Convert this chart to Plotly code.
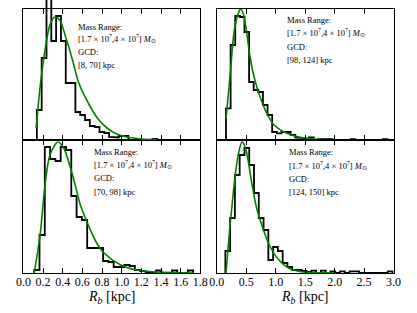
import numpy as np
import plotly.graph_objects as go

# ---------------- data ----------------
# histogram bin starts / widths in kpc, heights in density (arbitrary units)
tl_start, tl_width = 0.137, 0.049
tl_heights = [30, 82, 150, 99, 124, 99, 57, 57, 28, 25, 20, 14, 13, 8, 7, 3,
              2.5, 4, 4, 0, 0, 0, 0, 0, 1]
tl_curve_x = [0.13, 0.17, 0.22, 0.27, 0.32, 0.37, 0.43, 0.50, 0.56, 0.66, 0.76,
              0.85, 0.95, 1.05, 1.20, 1.36]
tl_curve_y = [12, 53, 90, 115, 123, 120, 103, 80, 58, 37, 21, 12, 6, 3, 1, 0.3]

tr_start, tr_width = 0.158, 0.0783
tr_heights = [31.7, 95, 124, 123, 108, 58, 50, 48, 35, 25, 8, 6.7, 8, 8, 5, 2.7,
              2, 0.5, 2.5, 0, 0.8, 0.8, 0.8, 0, 0, 0, 0, 0.8, 0, 0, 0, 0, 0, 0, 0.8]
tr_curve_x = [0.16, 0.24, 0.293, 0.375, 0.41, 0.457, 0.51, 0.566, 0.647, 0.755,
              0.864, 0.973, 1.19, 1.41, 1.68, 2.0, 2.33]
tr_curve_y = [22, 73, 107, 128, 131, 125, 107, 83, 60, 40, 25, 15, 6.7, 2.7, 0.8,
              0.3, 0.1]

bl_start, bl_width = 0.11, 0.0539
bl_heights = [3, 38, 126, 114, 112, 126, 123, 77, 56, 53, 25, 25, 25, 12, 11, 6,
              6, 8, 7, 3, 2, 1, 0.5, 2.5, 0, 0, 2.5, 0, 0, 2.5]
bl_curve_x = [0.11, 0.17, 0.22, 0.27, 0.35, 0.41, 0.50, 0.58, 0.66, 0.74, 0.82,
              0.99, 1.15, 1.31, 1.73]
bl_curve_y = [0, 38, 88, 118, 131, 125, 98, 68, 48, 31, 20, 8, 3, 1.3, 0]

br_start, br_width = 0.147, 0.081
br_heights = [22, 55, 98, 118, 125, 108, 80, 55, 43, 13, 26, 22, 10, 6, 3, 3, 2,
              1, 2.3, 0, 2.3, 0, 1.7, 0, 1.7, 0, 1.7, 1.7, 0, 0, 0, 0, 0, 0, 1.7]
br_curve_x = [0.158, 0.212, 0.266, 0.321, 0.375, 0.429, 0.484, 0.538, 0.592,
              0.673, 0.783, 0.892, 1.055, 1.218, 1.435, 1.71, 2.0]
br_curve_y = [0, 38, 71, 101, 121, 131, 126, 111, 91, 66, 45, 28, 13, 5, 1.3,
              0.3, 0.1]

left_ticks = [0.0, 0.2, 0.4, 0.6, 0.8, 1.0, 1.2, 1.4, 1.6, 1.8]
right_ticks = [0.0, 0.5, 1.0, 1.5, 2.0, 2.5, 3.0]

mass_label = "[1.7 × 10<sup>7</sup>,4 × 10<sup>7</sup>] <i>M</i><sub>⊙</sub>"
gcd_labels = ["[8, 70] kpc", "[98, 124] kpc", "[70, 98] kpc", "[124, 150] kpc"]

# ---------------- figure ----------------
W, H = 417, 313
SERIF = "Liberation Serif, Times New Roman, serif"


def px_x(X):
    return X / W


def px_y(Y):
    return (H - Y) / H


def step_xy(start, width, heights):
    n = len(heights)
    edges = start + width * np.arange(n + 1)
    xs, ys = [edges[0]], [0.0]
    for i, h in enumerate(heights):
        xs += [edges[i], edges[i + 1]]
        ys += [h, h]
    xs.append(edges[-1])
    ys.append(0.0)
    return xs, ys


fig = go.Figure()

xl = [px_x(16), px_x(200)]
xr = [px_x(217), px_x(401)]
y_top = px_y(9)
y_mid = px_y(140)
y_bot = px_y(273)

# empty trace so the top-left frame subplot exists
fig.add_trace(go.Scatter(x=[], y=[], xaxis="x", yaxis="y", hoverinfo="skip"))

panels = [
    # top-left drawn on an extended (invisible) subplot so its peak can pass the frame
    ("x5", "y5", tl_start, tl_width, tl_heights, tl_curve_x, tl_curve_y),
    ("x2", "y2", tr_start, tr_width, tr_heights, tr_curve_x, tr_curve_y),
    ("x3", "y3", bl_start, bl_width, bl_heights, bl_curve_x, bl_curve_y),
    ("x4", "y4", br_start, br_width, br_heights, br_curve_x, br_curve_y),
]
for ax, ay, s, w, hts, cx, cy in panels:
    xs, ys = step_xy(s, w, hts)
    fig.add_trace(go.Scatter(x=xs, y=ys, mode="lines", xaxis=ax, yaxis=ay,
                             line=dict(color="black", width=1.8),
                             hoverinfo="skip"))
    fig.add_trace(go.Scatter(x=cx, y=cy, mode="lines", xaxis=ax, yaxis=ay,
                             line=dict(color="#008000", width=1.6, shape="spline",
                                       smoothing=0.8),
                             hoverinfo="skip"))

common_x = dict(ticks="inside", ticklen=5, tickwidth=1, tickcolor="black",
                mirror="ticks", showline=True, linecolor="black", linewidth=1,
                showgrid=False, zeroline=False, tickformat=".1f",
                ticklabelstandoff=-2,
                tickfont=dict(family=SERIF, size=12, color="black"))
common_y = dict(showline=True, mirror=True, linecolor="black", linewidth=1,
                ticks="", showticklabels=False, showgrid=False, zeroline=False)

# extended top-left area: from the panel bottom up to the page top, same scale
ext_top = 131 * (140 - 0) / (140 - 9)

fig.update_layout(
    width=W, height=H, margin=dict(l=0, r=0, t=0, b=0),
    paper_bgcolor="white", plot_bgcolor="rgba(0,0,0,0)", showlegend=False,
    xaxis=dict(domain=xl, range=[0, 1.8], anchor="y", tickvals=left_ticks,
               showticklabels=False, **common_x),
    yaxis=dict(domain=[y_mid, y_top], range=[0, 131], anchor="x", **common_y),
    xaxis2=dict(domain=xr, range=[0, 3.0], anchor="y2", tickvals=right_ticks,
                showticklabels=False, **common_x),
    yaxis2=dict(domain=[y_mid, y_top], range=[0, 131], anchor="x2", **common_y),
    xaxis3=dict(domain=xl, range=[0, 1.8], anchor="y3", tickvals=left_ticks,
                **common_x),
    yaxis3=dict(domain=[y_bot, y_mid], range=[0, 133], anchor="x3", **common_y),
    xaxis4=dict(domain=xr, range=[0, 3.0], anchor="y4", tickvals=right_ticks,
                **common_x),
    yaxis4=dict(domain=[y_bot, y_mid], range=[0, 133], anchor="x4", **common_y),
    xaxis5=dict(domain=xl, range=[0, 1.8], anchor="y5", visible=False),
    yaxis5=dict(domain=[y_mid, 1.0], range=[0, ext_top], anchor="x5",
                visible=False),
)

# text blocks
text_pos = [
    ("x", "y", 0.297, [0.865, 0.771, 0.669, 0.573]),
    ("x2", "y2", 0.384, [0.916, 0.822, 0.712, 0.611]),
    ("x3", "y3", 0.3875, [0.912, 0.817, 0.712, 0.611]),
    ("x4", "y4", 0.397, [0.912, 0.812, 0.707, 0.607]),
]
for (ax, ay, tx, tys), gcd in zip(text_pos, gcd_labels):
    for txt, ty in zip(["Mass Range:", mass_label, "GCD:", gcd], tys):
        fig.add_annotation(text=txt, xref=f"{ax} domain", yref=f"{ay} domain",
                           x=tx, y=ty, xanchor="left", yanchor="middle",
                           showarrow=False,
                           font=dict(family=SERIF, size=8.5, color="black"))

for cx in [(xl[0] + xl[1]) / 2, (xr[0] + xr[1]) / 2]:
    fig.add_annotation(text="<i>R</i><sub><i>b</i></sub> [kpc]", xref="paper",
                       yref="paper", x=cx, y=px_y(297.5), xanchor="center",
                       yanchor="middle", showarrow=False,
                       font=dict(family=SERIF, size=14, color="black"))

fig.write_html(
    "out.html",
    config={"displayModeBar": False},
    post_script="document.body.style.margin='0px';"
                "document.body.style.overflow='hidden';",
)
